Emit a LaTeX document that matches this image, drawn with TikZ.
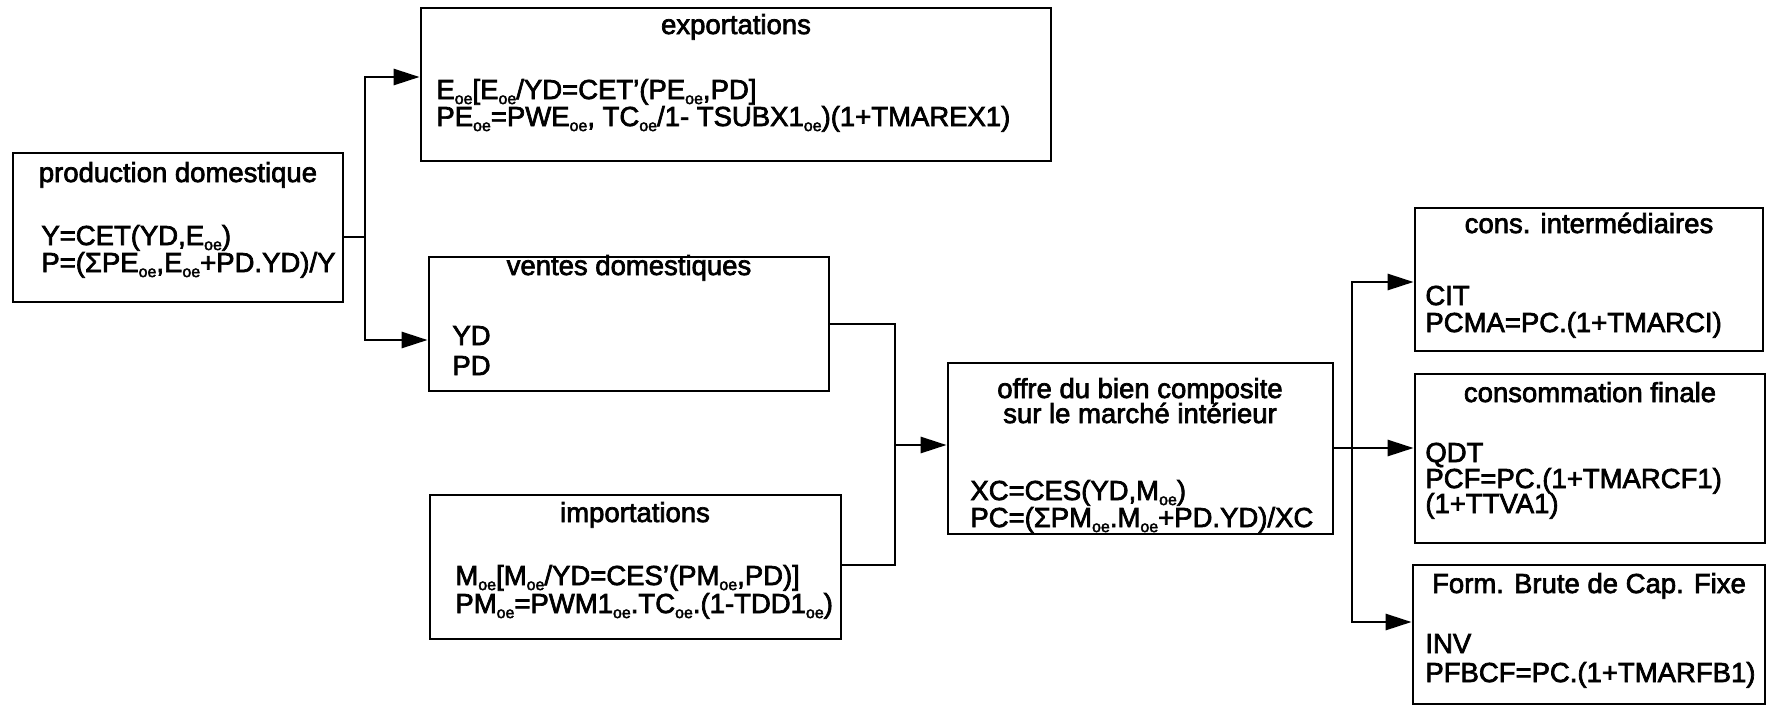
\documentclass[tikz,border=0pt]{standalone}
\usepackage{fontspec}
\setmainfont{Liberation Sans}[FakeBold=2.5]
\usetikzlibrary{arrows.meta,fit,calc}
\newcommand\so{\raisebox{-0.35ex}{\fontsize{8pt}{8pt}\selectfont oe}}
\begin{document}
\begin{tikzpicture}[x=0.5pt,y=-0.5pt,
  font=\fontsize{13.75pt}{16pt}\selectfont,
  box/.style={draw, line width=1.4pt, inner sep=0pt},
  txt/.style={inner sep=0pt, anchor=base west},
  ttl/.style={inner sep=0pt, anchor=base},
  conn/.style={line width=1.4pt},
  arr/.style={line width=1.4pt, -{Triangle[length=13pt,width=8pt]}}]
\useasboundingbox (0,0) rectangle (1771,707);
% boxes
\node[box, fit={(13,153) (343,302)}] (prod) {};
\node[box, fit={(421,8) (1051,161)}] (export) {};
\node[box, fit={(429,257) (829,391)}] (ventes) {};
\node[box, fit={(430,495) (841,639)}] (import) {};
\node[box, fit={(948,363) (1333,534)}] (offre) {};
\node[box, fit={(1415,208) (1763,351)}] (consint) {};
\node[box, fit={(1415,374) (1765,543)}] (consfin) {};
\node[box, fit={(1413,565) (1765,704)}] (fbcf) {};
% texts
\node[ttl] (prodT) at (178,182) {production domestique};
\node[txt] (prodA) at (41,245) {Y=CET(YD,E\so)};
\node[txt] (prodB) at (41,272) {P=(ΣPE\so,E\so+PD.YD)/Y};
\node[ttl] (exportT) at (736,34) {exportations};
\node[txt] (exportA) at (436,99) {E\so[E\so/YD=CET'(PE\so,PD]};
\node[txt] (exportB) at (436,126) {PE\so=PWE\so, TC\so/1- TSUBX1\so)(1+TMAREX1)};
\node[ttl] (ventesT) at (629,275) {ventes domestiques};
\node[txt] (ventesA) at (452,345) {YD};
\node[txt] (ventesB) at (452,375) {PD};
\node[ttl] (importT) at (635,522) {importations};
\node[txt] (importA) at (455,585) {M\so[M\so/YD=CES'(PM\so,PD)]};
\node[txt] (importB) at (455,613) {PM\so=PWM1\so.TC\so.(1-TDD1\so)};
\node[ttl] (offreT) at (1140,398) {offre du bien composite};
\node[ttl] (offreU) at (1140,423) {sur le marché intérieur};
\node[txt] (offreA) at (970,500) {XC=CES(YD,M\so)};
\node[txt] (offreB) at (970,527) {PC=(ΣPM\so.M\so+PD.YD)/XC};
\node[ttl] (consintT) at (1589,233) {cons. intermédiaires};
\node[txt] (consintA) at (1425,305) {CIT};
\node[txt] (consintB) at (1425,332) {PCMA=PC.(1+TMARCI)};
\node[ttl] (consfinT) at (1590,402) {consommation finale};
\node[txt] (consfinA) at (1425,462) {QDT};
\node[txt] (consfinB) at (1425,488) {PCF=PC.(1+TMARCF1)};
\node[txt] (consfinC) at (1425,513) {(1+TTVA1)};
\node[ttl] (fbcfT) at (1589,593) {Form. Brute de Cap. Fixe};
\node[txt] (fbcfA) at (1425,653) {INV};
\node[txt] (fbcfB) at (1425,682) {PFBCF=PC.(1+TMARFB1)};
% connectors left
\coordinate (jL) at (365,237);
\coordinate (yE) at (0,77);
\coordinate (yV) at (0,340);
\draw[conn] (prod.east |- jL) -- (jL);
\draw[arr] (jL) |- (export.west |- yE);
\draw[arr] (jL) |- (ventes.west |- yV);
% connectors middle
\coordinate (jM) at (895,445);
\coordinate (yVo) at (0,324);
\coordinate (yIo) at (0,565);
\draw[conn] (ventes.east |- yVo) -| (jM);
\draw[conn] (import.east |- yIo) -| (jM);
\draw[arr] (jM) -- (offre.west |- jM);
% connectors right
\coordinate (jR) at (1352,448);
\coordinate (yC) at (0,282);
\coordinate (yF) at (0,622);
\draw[arr] (offre.east |- jR) -- (consfin.west |- jR);
\draw[arr] (jR) |- (consint.west |- yC);
\draw[arr] (jR) |- (fbcf.west |- yF);
\end{tikzpicture}
\end{document}
